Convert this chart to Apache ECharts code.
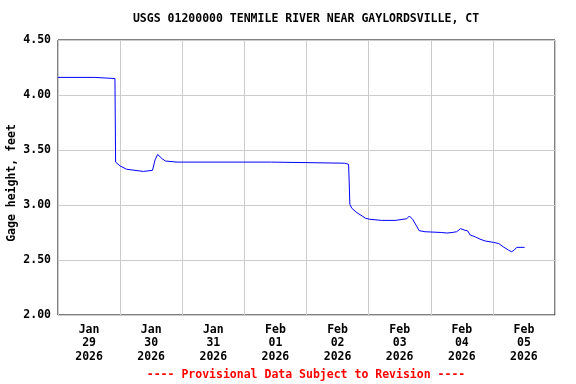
<!DOCTYPE html>
<html>
<head>
<meta charset="utf-8">
<script src="https://cdn.jsdelivr.net/npm/echarts@6/dist/echarts.min.js"></script>
<style>
html,body{margin:0;padding:0;background:#fff;}
#chart{width:576px;height:384px;}
</style>
</head>
<body>
<div id="chart"></div>
<script>
var titleText = 'USGS 01200000 TENMILE RIVER NEAR GAYLORDSVILLE, CT';
var footerText = '---- Provisional Data Subject to Revision ----';
var yAxisTitle = 'Gage height, feet';
var dayLabels = ['Jan\n29\n2026','Jan\n30\n2026','Jan\n31\n2026','Feb\n01\n2026','Feb\n02\n2026','Feb\n03\n2026','Feb\n04\n2026','Feb\n05\n2026'];
var xStart = '2026-01-29 00:00';
var xEnd = '2026-02-06 00:00';
var yTicks = [2.0, 2.5, 3.0, 3.5, 4.0, 4.5];
var times = [
'2026-01-29 00:00','2026-01-29 14:00','2026-01-29 14:15','2026-01-29 22:00','2026-01-29 22:15','2026-01-29 22:45',
'2026-01-30 00:00','2026-01-30 02:30','2026-01-30 05:45','2026-01-30 09:00','2026-01-30 12:30','2026-01-30 13:00',
'2026-01-30 13:30','2026-01-30 14:30','2026-01-30 16:15','2026-01-30 17:30','2026-01-30 22:00','2026-02-01 10:30',
'2026-02-01 10:45','2026-02-02 14:45','2026-02-02 15:00','2026-02-02 16:15','2026-02-02 16:30','2026-02-02 16:45',
'2026-02-02 17:30','2026-02-02 19:30','2026-02-02 21:30','2026-02-02 22:45','2026-02-03 00:30','2026-02-03 05:00',
'2026-02-03 10:15','2026-02-03 11:00','2026-02-03 14:45','2026-02-03 15:45','2026-02-03 17:00','2026-02-03 18:30',
'2026-02-03 19:30','2026-02-03 21:45','2026-02-04 04:15','2026-02-04 06:15','2026-02-04 08:15','2026-02-04 10:00',
'2026-02-04 11:30','2026-02-04 12:15','2026-02-04 13:15','2026-02-04 14:15','2026-02-04 15:15','2026-02-04 17:15',
'2026-02-04 19:00','2026-02-04 21:00','2026-02-05 00:15','2026-02-05 02:15','2026-02-05 04:00','2026-02-05 06:00',
'2026-02-05 07:15','2026-02-05 08:15','2026-02-05 09:15','2026-02-05 12:15'
];
var gageHeight = [
4.16,4.16,4.15,4.15,3.39,3.385,
3.355,3.325,3.315,3.305,3.315,3.315,
3.41,3.46,3.42,3.40,3.39,3.39,
3.38,3.38,3.37,3.37,3.20,3.006,
2.97,2.93,2.90,2.88,2.87,2.86,
2.86,2.875,2.875,2.90,2.87,2.81,
2.767,2.757,2.75,2.745,2.75,2.757,
2.785,2.785,2.77,2.765,2.727,2.71,
2.69,2.673,2.66,2.65,2.62,2.59,
2.575,2.59,2.615,2.615
];

var FONT = '"DejaVu Sans Mono", "Liberation Mono", monospace';
var seriesData = times.map(function (t, i) { return [t, gageHeight[i]]; });

var chart = echarts.init(document.getElementById('chart'), null, {renderer: 'canvas'});
chart.setOption({
  animation: false,
  backgroundColor: '#ffffff',
  grid: {left: 58, right: 21, top: 40, bottom: 69, show: true, borderColor: '#000000', borderWidth: 1, backgroundColor: 'transparent', containLabel: false, outerBoundsMode: 'none'},
  graphic: [
    {type: 'text', x: 306, y: 19, style: {text: titleText, fill: '#000', font: 'bold 11.5px ' + FONT, textAlign: 'center', textVerticalAlign: 'middle'}},
    {type: 'text', x: 306, y: 375, style: {text: footerText, fill: '#ff0000', font: 'bold 11.5px ' + FONT, textAlign: 'center', textVerticalAlign: 'middle'}},
    {type: 'text', x: 12, y: 183, rotation: Math.PI / 2, style: {text: yAxisTitle, fill: '#000', font: 'bold 11.5px ' + FONT, textAlign: 'center', textVerticalAlign: 'middle'}}
  ],
  xAxis: [
    {
      type: 'time', min: xStart, max: xEnd,
      axisLine: {show: false}, axisTick: {show: false}, axisLabel: {show: false}, splitLine: {show: false}
    },
    {
      type: 'category', data: dayLabels, boundaryGap: true, position: 'bottom',
      axisLine: {show: false}, axisTick: {show: false},
      axisLabel: {color: '#000', fontFamily: FONT, fontWeight: 'bold', fontSize: 11.5, lineHeight: 13.5, margin: 8},
      splitLine: {show: true, lineStyle: {color: '#cccccc', width: 1}}
    }
  ],
  yAxis: {
    type: 'value', min: yTicks[0], max: yTicks[yTicks.length - 1], interval: 0.5,
    axisLine: {show: false}, axisTick: {show: false},
    axisLabel: {color: '#000', fontFamily: FONT, fontWeight: 'bold', fontSize: 11.5, margin: 7, formatter: function (v) { return v.toFixed(2); }},
    splitLine: {show: true, lineStyle: {color: '#cccccc', width: 1}}
  },
  series: [{
    type: 'line', xAxisIndex: 0, data: seriesData, showSymbol: false, symbol: 'none',
    lineStyle: {color: '#0000ff', width: 1}, silent: true
  }]
});
</script>
</body>
</html>
